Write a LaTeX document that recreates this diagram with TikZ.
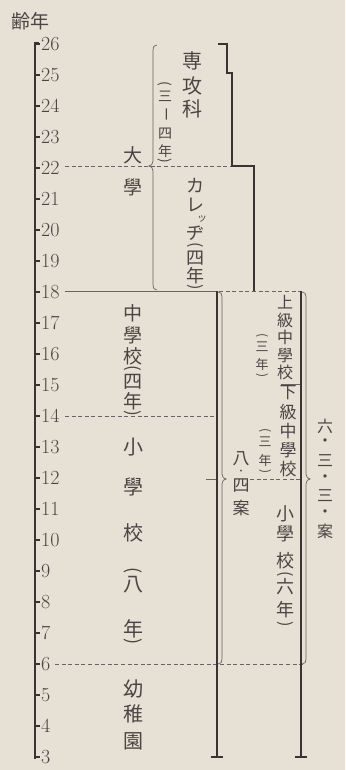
\documentclass[tikz,border=0pt]{standalone}
\usepackage{fontspec}
\newfontfamily\cjk{Noto Sans CJK JP}
\definecolor{paper}{HTML}{E7E0D4}
\definecolor{ink}{HTML}{3A3333}
\definecolor{txt}{HTML}{4A4545}
\definecolor{thinc}{HTML}{6A6363}
\begin{document}
\begin{tikzpicture}[x=1pt,y=-1pt,
  heavy/.style={draw=ink,line width=1.7pt},
  tickln/.style={draw=ink,line width=1.1pt},
  hair/.style={draw=thinc,line width=0.7pt},
  dashline/.style={draw=thinc,line width=0.7pt,dash pattern=on 4pt off 2.6pt},
  cj/.style={font=\cjk\fontsize{#1}{#1}\selectfont,text=txt,inner sep=0pt},
  vp/.style={font=\cjk\fontsize{#1}{#1}\selectfont,text=txt,inner sep=0pt,rotate=-90},
  num/.style={font=\fontsize{20}{20}\selectfont,text=txt,inner sep=0pt,anchor=west},
]
\fill[paper] (0,0) rectangle (345,770);
\useasboundingbox (0,0) rectangle (345,770);

% header
\node[cj=19] (hdr) at (31,21) {齢年};

% axis
\draw[heavy] (39,43) -- (35,43) -- (35,759);
\foreach \a in {3,...,26}{
  \pgfmathsetmacro{\yy}{850-31*\a}
  \draw[tickln] (35,\yy) -- (40,\yy);
  \node[num] (n\a) at (41,\yy) {\a};
}

% horizontal rules
\draw[dashline] (65,166) -- (232,166);
\draw[hair] (65,291) -- (217,291);
\draw[dashline] (219,291) -- (300,291);
\draw[dashline] (65,416) -- (216,416);
\draw[dashline] (55,664) -- (303,664);
\draw[dashline] (250,479) -- (300,479);
\draw[hair] (206,479) -- (217,479);
\draw[hair] (281,384) -- (301,384);

% heavy borders
\draw[heavy] (218,44) -- (227,44) -- (227,73) -- (232,73) -- (232,166) -- (254,166) -- (254,291);
\draw[heavy] (217,291) -- (217,757);
\draw[heavy] (211,757) -- (223,757);
\draw[heavy] (301,291) -- (301,757);
\draw[heavy] (295,757) -- (307,757);

% braces
\draw[hair] (157,45) .. controls (154,45) and (153,47) .. (153,50) -- (153,161)
  .. controls (153,164) and (151,166) .. (149,166)
  .. controls (151,166) and (153,168) .. (153,171) -- (153,285)
  .. controls (153,288) and (154,290) .. (157,290);
\draw[hair] (218,292) .. controls (221,292) and (222,294) .. (222,297) -- (222,474)
  .. controls (222,477) and (224,479) .. (226,479)
  .. controls (224,479) and (222,481) .. (222,484) -- (222,659)
  .. controls (222,662) and (221,664) .. (218,664);
\draw[hair] (302,292) .. controls (305,292) and (306,294) .. (306,297) -- (306,474)
  .. controls (306,477) and (308,479) .. (310,479)
  .. controls (308,479) and (306,481) .. (306,484) -- (306,659)
  .. controls (306,662) and (305,664) .. (302,664);

% 専攻科 (三ー四年)
\foreach \y/\c in {61/専,86/攻,109/科}{\node[cj=20] (sk\y) at (192,\y) {\c};}
\node[vp=14] (skp1) at (165,84) {(};
\node[cj=14] (skb1) at (165,96) {三};
\node[vp=14] (skb2) at (165,115) {ー};
\node[cj=14] (skb3) at (165,134) {四};
\node[cj=14] (skb4) at (165,151) {年};
\node[vp=14] (skp2) at (165,161) {)};

% 大學
\node[cj=19] (dg1) at (133,155) {大};
\node[cj=19] (dg2) at (133,187) {學};

% カレッジ(四年)
\node[cj=18] (cl1) at (195,186) {カ};
\node[cj=18] (cl2) at (195,205) {レ};
\node[cj=10] (cl3) at (202,219) {ッ};
\node[cj=18] (cl4) at (195,233) {ヂ};
\node[vp=16] (cl5) at (195,245) {(};
\node[cj=18] (cl6) at (195,258) {四};
\node[cj=18] (cl7) at (195,276) {年};
\node[vp=16] (cl8) at (195,287) {)};

% 中學校(四年)
\foreach \y/\c in {313/中,335/學,356/校,382/四,401/年}{\node[cj=19] (cg\y) at (133,\y) {\c};}
\node[vp=17] (cgp1) at (133,368) {(};
\node[vp=17] (cgp2) at (133,413) {)};

% 小學校(八年)
\foreach \y/\c in {447/小,487/學,533/校,585/八,629/年}{\node[cj=20] (sg\y) at (133,\y) {\c};}
\node[vp=18] (sgp1) at (133,571) {(};
\node[vp=18] (sgp2) at (133,642) {)};

% 幼稚園
\foreach \y/\c in {689/幼,714/稚,741/園}{\node[cj=20] (yc\y) at (133,\y) {\c};}

% 上級中學校(三年)
\foreach \y/\c in {302/上,320/級,337/中,355/學,372/校}{\node[cj=16] (jk\y) at (285,\y) {\c};}
\node[vp=12] (jkp1) at (262,336) {(};
\node[cj=13] (jkb1) at (262,347) {三};
\node[cj=13] (jkb2) at (262,365) {年};
\node[vp=12] (jkp2) at (262,376) {)};

% 下級中學校(三年)
\foreach \y/\c in {393/下,412/級,431/中,450/學,469/校}{\node[cj=17] (kk\y) at (288,\y) {\c};}
\node[vp=12] (kkp1) at (265,431) {(};
\node[cj=13] (kkb1) at (265,442) {三};
\node[cj=13] (kkb2) at (265,461) {年};
\node[vp=12] (kkp2) at (265,472) {)};

% 小學校(六年)
\foreach \y/\c in {514/小,534/學,561/校,587/六,610/年}{\node[cj=18] (ss\y) at (285,\y) {\c};}
\node[vp=16] (ssp1) at (285,574) {(};
\node[vp=16] (ssp2) at (285,624) {)};

% 八・四案
\node[cj=17] (hy1) at (241,459) {八};
\node[cj=9] (hy2) at (241,472) {・};
\node[cj=17] (hy3) at (241,486) {四};
\node[cj=17] (hy4) at (241,508) {案};

% 六・三・三・案
\foreach \y/\c in {426/六,443/・,461/三,479/・,496/三,514/・,531/案}{\node[cj=16] (rs\y) at (325,\y) {\c};}
\end{tikzpicture}
\end{document}
